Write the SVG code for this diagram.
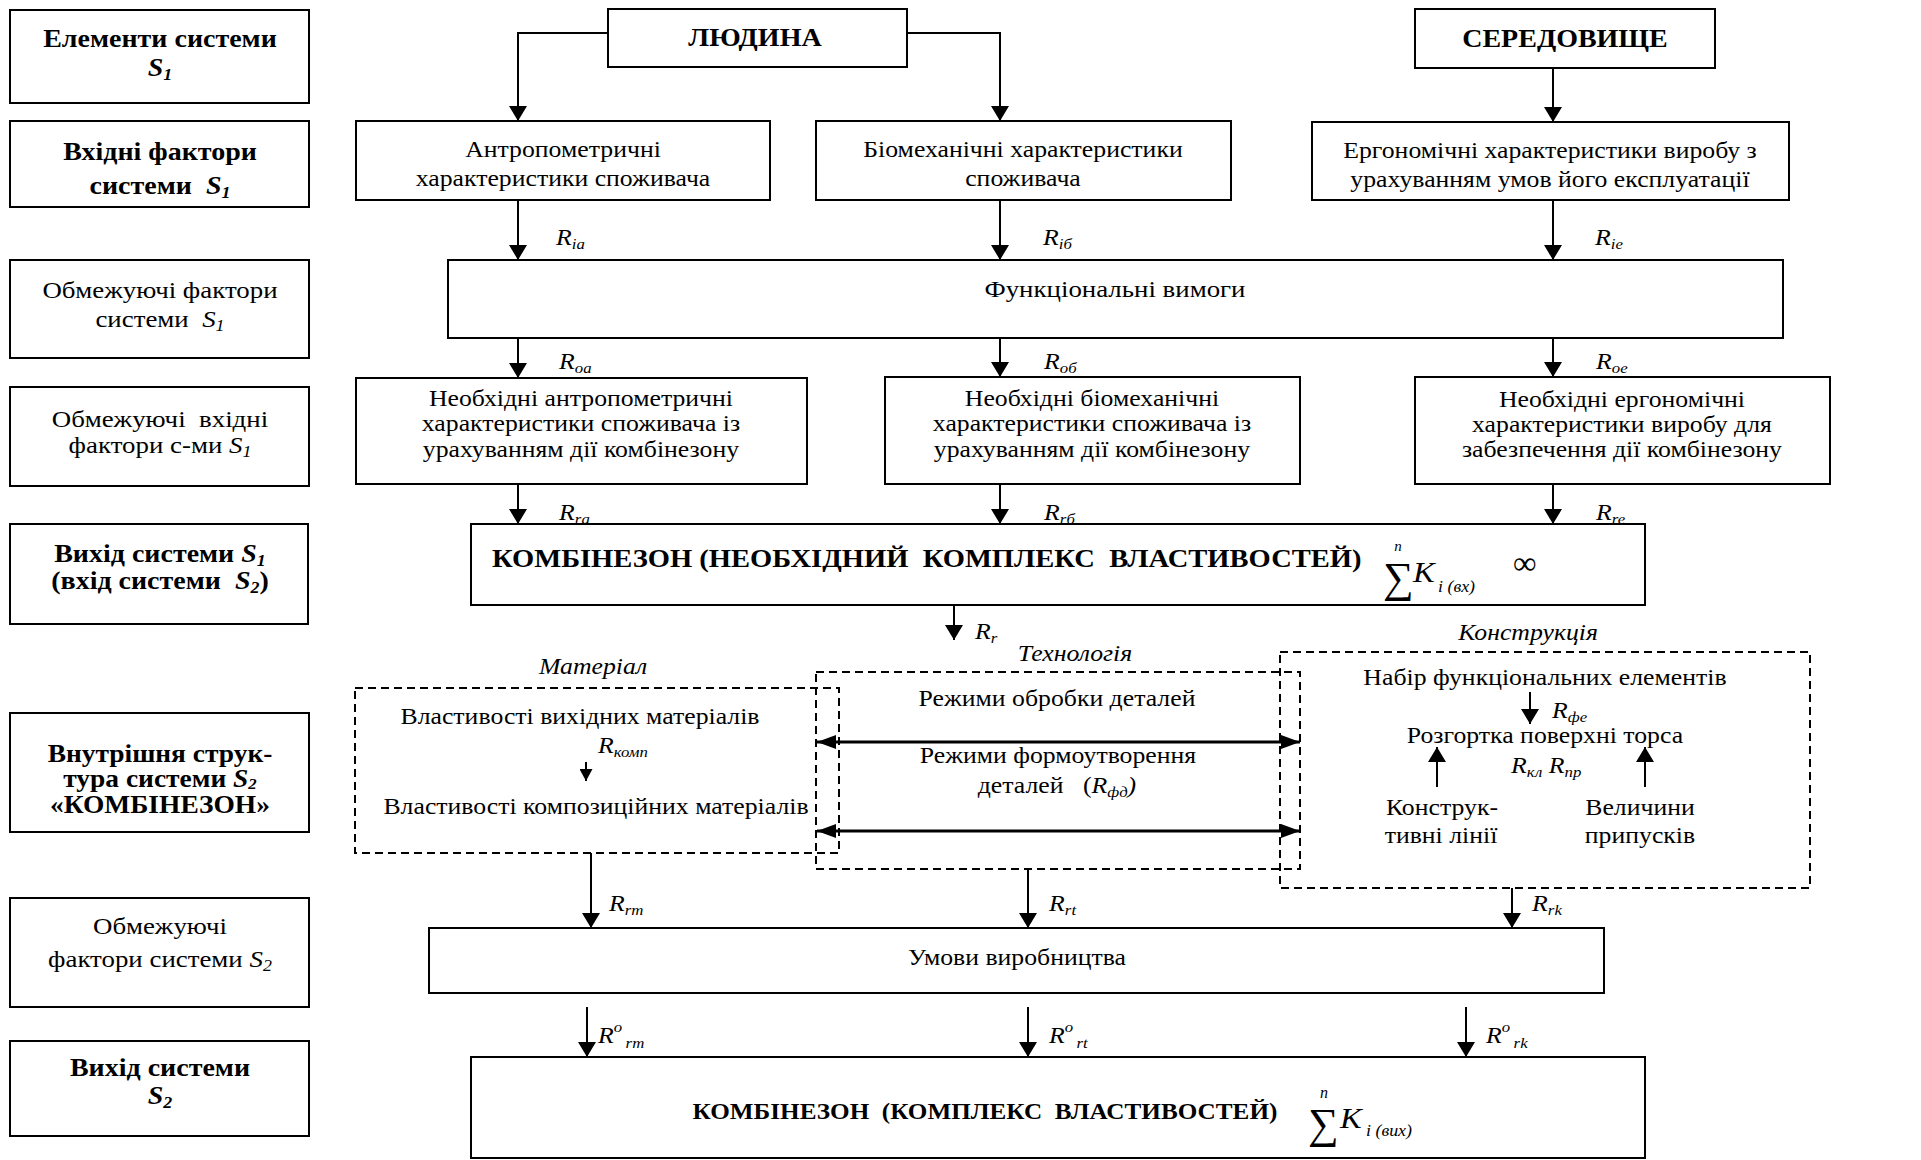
<svg xmlns="http://www.w3.org/2000/svg" width="1921" height="1160" viewBox="0 0 1921 1160">
<style>
rect{fill:#fff;stroke:#000;stroke-width:2}
.dash{fill:none;stroke:#000;stroke-width:2;stroke-dasharray:8 5}
.c path{fill:none;stroke:#000;stroke-width:2}
.c path.dbl{stroke-width:3}
text{font-family:"Liberation Serif","Times New Roman",serif;fill:#000;font-size:23px;text-anchor:middle;transform-box:fill-box;transform-origin:50% 50%;transform:scaleX(1.12)}
.lc{font-size:24px}
.b{font-weight:bold;font-size:25px}
.b2{font-weight:bold;font-size:22.5px}
.i{font-style:italic}
.l{text-anchor:start;transform-origin:0% 50%}
.r{font-style:italic;font-size:23px;text-anchor:start;transform-origin:0% 50%}
.sub{font-size:15px}
.sb{font-size:16px}
.ns{transform:none}
</style>
<defs>
<marker id="a" viewBox="0 0 15 18" refX="15" refY="9" markerWidth="15" markerHeight="18" markerUnits="userSpaceOnUse" orient="auto"><path d="M0,0L15,9L0,18z" fill="#000"/></marker>
<marker id="s" viewBox="0 0 12 13" refX="12" refY="6.5" markerWidth="12" markerHeight="13" markerUnits="userSpaceOnUse" orient="auto"><path d="M0,0L12,6.5L0,13z" fill="#000"/></marker>
<marker id="d" viewBox="0 0 19 14" refX="19" refY="7" markerWidth="19" markerHeight="14" markerUnits="userSpaceOnUse" orient="auto-start-reverse"><path d="M0,0L19,7L0,14z" fill="#000"/></marker>
</defs>

<g id="left-column">
<g id="l1"><rect x="10" y="10" width="299" height="93"/>
<text class="b" x="160" y="47">Елементи системи</text>
<text class="b" x="160" y="76"><tspan class="i">S</tspan><tspan class="sb i" dy="4">1</tspan></text></g>
<g id="l2"><rect x="10" y="121" width="299" height="86"/>
<text class="b" x="160" y="160">Вхідні фактори</text>
<text class="b" x="160" y="194">системи&#160; <tspan class="i">S</tspan><tspan class="sb i" dy="4">1</tspan></text></g>
<g id="l3"><rect x="10" y="260" width="299" height="98"/>
<text class="lc" x="160" y="298">Обмежуючі фактори</text>
<text class="lc" x="160" y="327">системи&#160; <tspan class="i">S</tspan><tspan class="sb i" dy="4">1</tspan></text></g>
<g id="l4"><rect x="10" y="387" width="299" height="99"/>
<text class="lc" x="160" y="427">Обмежуючі&#160; вхідні</text>
<text class="lc" x="160" y="453">фактори с-ми <tspan class="i">S</tspan><tspan class="sb i" dy="4">1</tspan></text></g>
<g id="l5"><rect x="10" y="524" width="298" height="100"/>
<text class="b" x="160" y="562">Вихід системи <tspan class="i">S</tspan><tspan class="sb i" dy="4">1</tspan></text>
<text class="b" x="160" y="589">(вхід системи&#160; <tspan class="i">S</tspan><tspan class="sb i" dy="4">2</tspan><tspan dy="-4">)</tspan></text></g>
<g id="l6"><rect x="10" y="713" width="299" height="119"/>
<text class="b" x="160" y="762" style="font-size:24.5px">Внутрішня струк-</text>
<text class="b" x="160" y="787" style="font-size:24.5px">тура системи <tspan class="i">S</tspan><tspan class="i" style="font-size:15px" dy="2">2</tspan></text>
<text class="b" x="160" y="813" style="font-size:24.5px">«КОМБІНЕЗОН»</text></g>
<g id="l7"><rect x="10" y="898" width="299" height="109"/>
<text class="lc" x="160" y="934">Обмежуючі</text>
<text class="lc" x="160" y="967">фактори системи <tspan class="i">S</tspan><tspan class="sb i" dy="4">2</tspan></text></g>
<g id="l8"><rect x="10" y="1041" width="299" height="95"/>
<text class="b" x="160" y="1076">Вихід системи</text>
<text class="b" x="160" y="1104"><tspan class="i">S</tspan><tspan class="sb i" dy="4">2</tspan></text></g>
</g>

<g id="lyudyna"><rect x="608" y="9" width="299" height="58"/>
<text class="b" x="755" y="46">ЛЮДИНА</text></g>
<g id="seredovyshche"><rect x="1415" y="9" width="300" height="59"/>
<text class="b" x="1565" y="47">СЕРЕДОВИЩЕ</text></g>

<g id="antropo"><rect x="356" y="121" width="414" height="79"/>
<text x="563" y="157">Антропометричні</text>
<text x="563" y="186">характеристики споживача</text></g>
<g id="biomech"><rect x="816" y="121" width="415" height="79"/>
<text x="1023" y="157">Біомеханічні характеристики</text>
<text x="1023" y="186">споживача</text></g>
<g id="ergo"><rect x="1312" y="122" width="477" height="78"/>
<text x="1550" y="158">Ергономічні характеристики виробу з</text>
<text x="1550" y="187">урахуванням умов його експлуатації</text></g>

<g id="funkts"><rect x="448" y="260" width="1335" height="78"/>
<text x="1115" y="297" style="font-size:24px">Функціональні вимоги</text></g>

<g id="neobh-antropo"><rect x="356" y="378" width="451" height="106"/>
<text x="581" y="406">Необхідні антропометричні</text>
<text x="581" y="431">характеристики споживача із</text>
<text x="581" y="457">урахуванням дії комбінезону</text></g>
<g id="neobh-bio"><rect x="885" y="377" width="415" height="107"/>
<text x="1092" y="406">Необхідні біомеханічні</text>
<text x="1092" y="431">характеристики споживача із</text>
<text x="1092" y="457">урахуванням дії комбінезону</text></g>
<g id="neobh-ergo"><rect x="1415" y="377" width="415" height="107"/>
<text x="1622" y="407">Необхідні ергономічні</text>
<text x="1622" y="432">характеристики виробу для</text>
<text x="1622" y="457">забезпечення дії комбінезону</text></g>

<g id="kombinezon-s1"><rect x="471" y="524" width="1174" height="81"/>
<text class="b l" x="492" y="567" style="font-size:25.5px">КОМБІНЕЗОН (НЕОБХІДНИЙ&#160; КОМПЛЕКС&#160; ВЛАСТИВОСТЕЙ)</text>
<text class="i ns" x="1398" y="551" style="font-size:15px">n</text>
<text class="ns l" x="1383" y="592" style="font-size:43px">∑</text>
<text class="i l" x="1413" y="582" style="font-size:29px">K</text>
<text class="i l" x="1438" y="592" style="font-size:16px">i (вх)</text>
<text class="ns l" x="1513" y="574" style="font-size:33px">∞</text></g>

<g id="material"><rect class="dash" x="355" y="688" width="484" height="165"/>
<text class="i" x="593" y="674">Матеріал</text>
<text x="580" y="724">Властивості вихідних матеріалів</text>
<text class="r" x="598" y="753">R<tspan class="sub" dy="4">комп</tspan></text>
<text x="596" y="814">Властивості композиційних матеріалів</text></g>

<g id="tekhnolohiya"><rect class="dash" x="816" y="672" width="484" height="197"/>
<text class="i" x="1075" y="661">Технологія</text>
<text x="1057" y="706">Режими обробки деталей</text>
<text x="1058" y="763">Режими формоутворення</text>
<text x="1057" y="793">деталей&#160;&#160; (<tspan class="i">R</tspan><tspan class="i sub" dy="4">фд</tspan><tspan class="i" dy="-4">)</tspan></text></g>

<g id="konstruktsiya"><rect class="dash" x="1280" y="652" width="530" height="236"/>
<text class="i" x="1528" y="640">Конструкція</text>
<text x="1545" y="685">Набір функціональних елементів</text>
<text class="r" x="1552" y="718">R<tspan class="sub" dy="4">фе</tspan></text>
<text x="1545" y="743">Розгортка поверхні торса</text>
<text class="r" x="1511" y="773">R<tspan class="sub" dy="4">кл</tspan><tspan dy="-4"> R</tspan><tspan class="sub" dy="4">пр</tspan></text>
<text x="1442" y="815">Конструк-</text>
<text x="1441" y="843">тивні лінії</text>
<text x="1640" y="815">Величини</text>
<text x="1640" y="843">припусків</text></g>

<g id="umovy"><rect x="429" y="928" width="1175" height="65"/>
<text x="1017" y="965">Умови виробництва</text></g>

<g id="kombinezon-s2"><rect x="471" y="1057" width="1174" height="101"/>
<text class="b2" x="985" y="1119">КОМБІНЕЗОН&#160; (КОМПЛЕКС&#160; ВЛАСТИВОСТЕЙ)</text>
<text class="i ns" x="1324" y="1098" style="font-size:16px">n</text>
<text class="ns l" x="1308" y="1138" style="font-size:43px">∑</text>
<text class="i l" x="1340" y="1128" style="font-size:29px">K</text>
<text class="i l" x="1366" y="1136" style="font-size:16px">i (вих)</text></g>

<g id="connectors" class="c">
<path d="M608,33H518V121" marker-end="url(#a)"/>
<path d="M907,33H1000V121" marker-end="url(#a)"/>
<path d="M1553,68V122" marker-end="url(#a)"/>
<path d="M518,200V260" marker-end="url(#a)"/>
<path d="M1000,200V260" marker-end="url(#a)"/>
<path d="M1553,200V260" marker-end="url(#a)"/>
<path d="M518,338V378" marker-end="url(#a)"/>
<path d="M1000,338V377" marker-end="url(#a)"/>
<path d="M1553,338V377" marker-end="url(#a)"/>
<path d="M518,484V524" marker-end="url(#a)"/>
<path d="M1000,484V524" marker-end="url(#a)"/>
<path d="M1553,484V524" marker-end="url(#a)"/>
<path d="M954,605V640" marker-end="url(#a)"/>
<path d="M586,762V781" marker-end="url(#s)"/>
<path class="dbl" d="M817,742H1300" marker-start="url(#d)" marker-end="url(#d)"/>
<path class="dbl" d="M817,831H1300" marker-start="url(#d)" marker-end="url(#d)"/>
<path d="M1530,692V724" marker-end="url(#a)"/>
<path d="M1437,787V747" marker-end="url(#a)"/>
<path d="M1645,787V747" marker-end="url(#a)"/>
<path d="M591,853V928" marker-end="url(#a)"/>
<path d="M1028,869V928" marker-end="url(#a)"/>
<path d="M1512,888V928" marker-end="url(#a)"/>
<path d="M587,1007V1057" marker-end="url(#a)"/>
<path d="M1028,1007V1057" marker-end="url(#a)"/>
<path d="M1466,1007V1057" marker-end="url(#a)"/>
</g>

<g id="labels">
<text class="r" x="556" y="245">R<tspan class="sub" dy="4">ia</tspan></text>
<text class="r" x="1043" y="245">R<tspan class="sub" dy="4">iб</tspan></text>
<text class="r" x="1595" y="245">R<tspan class="sub" dy="4">ie</tspan></text>
<text class="r" x="559" y="369">R<tspan class="sub" dy="4">oa</tspan></text>
<text class="r" x="1044" y="369">R<tspan class="sub" dy="4">oб</tspan></text>
<text class="r" x="1596" y="369">R<tspan class="sub" dy="4">oe</tspan></text>
<text class="r" x="559" y="520">R<tspan class="sub" dy="4">ra</tspan></text>
<text class="r" x="1044" y="520">R<tspan class="sub" dy="4">rб</tspan></text>
<text class="r" x="1596" y="520">R<tspan class="sub" dy="4">re</tspan></text>
<text class="r" x="975" y="639">R<tspan class="sub" dy="4">r</tspan></text>
<text class="r" x="609" y="911">R<tspan class="sub" dy="4">rm</tspan></text>
<text class="r" x="1049" y="911">R<tspan class="sub" dy="4">rt</tspan></text>
<text class="r" x="1532" y="911">R<tspan class="sub" dy="4">rk</tspan></text>
<text class="r" x="598" y="1043">R<tspan class="sub" dy="-11">o</tspan><tspan class="sub" dx="3" dy="16">rm</tspan></text>
<text class="r" x="1049" y="1043">R<tspan class="sub" dy="-11">o</tspan><tspan class="sub" dx="3" dy="16">rt</tspan></text>
<text class="r" x="1486" y="1043">R<tspan class="sub" dy="-11">o</tspan><tspan class="sub" dx="3" dy="16">rk</tspan></text>
</g>
</svg>
